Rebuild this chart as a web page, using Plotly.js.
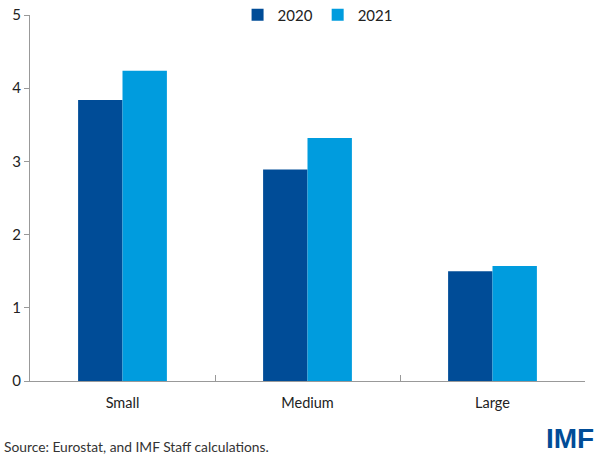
<!DOCTYPE html>
<html>
<head>
<meta charset="utf-8">
<script src="https://cdn.plot.ly/plotly-3.0.1.min.js"></script>
<style>html,body{margin:0;padding:0;background:#fff;}#chart{width:598px;height:455px;}</style>
</head>
<body>
<div id="chart"></div>
<script>
const categories = ["Small", "Medium", "Large"];
const values2020 = [3.84, 2.89, 1.50];
const values2021 = [4.24, 3.32, 1.57];
const seriesNames = ["2020", "2021"];
const yTicks = [0, 1, 2, 3, 4, 5];

const fontFam = "Lato, 'Open Sans', sans-serif";
const traces = [
  {type: "bar", name: seriesNames[0], x: categories, y: values2020, marker: {color: "#004C97"}},
  {type: "bar", name: seriesNames[1], x: categories, y: values2021, marker: {color: "#009CDE"}}
];
const layout = {
  width: 598, height: 455,
  margin: {l: 30, r: 13, t: 15, b: 74, autoexpand: false},
  paper_bgcolor: "#fff", plot_bgcolor: "#fff",
  font: {family: fontFam, size: 15, color: "#222"},
  barmode: "group", bargap: 0.52, bargroupgap: 0,
  showlegend: true,
  legend: {orientation: "h", x: 0.374, xanchor: "left", y: 1.0, yanchor: "middle",
           font: {family: fontFam, size: 15, color: "#222"}, bgcolor: "rgba(0,0,0,0)",
           itemwidth: 30, tracegroupgap: 0},
  xaxis: {type: "category", showline: true, linecolor: "#999", linewidth: 1,
          ticks: "inside", tickson: "boundaries", ticklen: 6, tickcolor: "#999",
          showgrid: false, zeroline: false, tickfont: {size: 14.5}, ticklabelstandoff: 9},
  yaxis: {range: [0, 5], tickvals: yTicks, showline: true, linecolor: "#999", linewidth: 1,
          ticks: "outside", ticklen: 5, tickcolor: "#999", showgrid: false, zeroline: false,
          tickfont: {size: 15}},
  annotations: [
    {text: "Source: Eurostat, and IMF Staff calculations.", xref: "paper", yref: "paper",
     x: 0, y: -0.18, xanchor: "left", yanchor: "middle", showarrow: false, xshift: -28,
     font: {family: fontFam, size: 13.8, color: "#333"}},
    {text: "<b>IMF</b>", xref: "paper", yref: "paper", x: 1, y: -0.158, xanchor: "right", yanchor: "middle",
     showarrow: false, xshift: 10, borderpad: 0, font: {family: "'Liberation Sans', Arial, sans-serif", size: 28, color: "#004C97"}}
  ]
};
Plotly.newPlot("chart", traces, layout, {displayModeBar: false, staticPlot: true});
</script>
</body>
</html>
